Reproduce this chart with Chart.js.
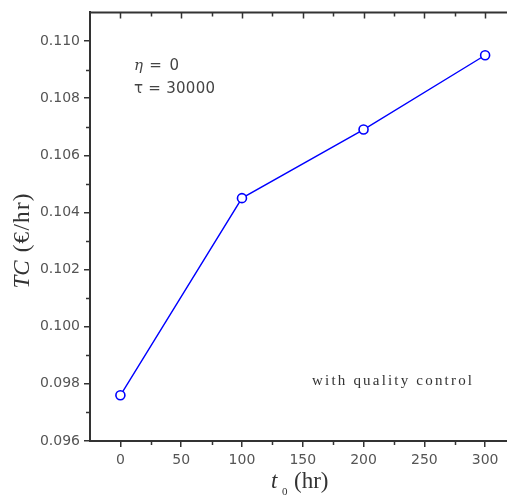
<!DOCTYPE html>
<html>
<head>
<meta charset="utf-8">
<script src="https://cdn.jsdelivr.net/npm/chart.js@4.4.1/dist/chart.umd.min.js"></script>
<style>
html,body{margin:0;padding:0;background:#fff;}
#wrap{width:507px;height:497px;position:relative;}
</style>
</head>
<body>
<div id="wrap"><canvas id="c" width="507" height="497"></canvas></div>
<script>
const t0Values = [0, 100, 200, 300];
const tcValues = [0.0976, 0.1045, 0.1069, 0.1095];
const xTickValues = [0, 50, 100, 150, 200, 250, 300];
const yTickValues = [0.096, 0.098, 0.100, 0.102, 0.104, 0.106, 0.108, 0.110];
const xMinorValues = [25, 75, 125, 175, 225, 275];
const yMinorValues = [0.097, 0.099, 0.101, 0.103, 0.105, 0.107, 0.109];
const annotLines = ["η = 0", "τ = 30000"];
const noteText = "with quality control";

const AX = '#333';
const LBL = '#555';

function spacedText(ctx, text, x, y, targetW) {
  const mw = ctx.measureText(text).width;
  const ls = (targetW - mw) / (text.length - 1);
  let cx = x;
  for (const ch of text) { ctx.fillText(ch, cx, y); cx += ctx.measureText(ch).width + ls; }
}

const decor = {
  id: 'decor',
  afterDraw(chart) {
    const ctx = chart.ctx, a = chart.chartArea;
    const xs = chart.scales.x, ys = chart.scales.y;
    ctx.save();
    ctx.strokeStyle = AX;
    ctx.beginPath();
    ctx.lineWidth = 2;
    ctx.moveTo(a.left - 1, a.top); ctx.lineTo(a.right, a.top);
    ctx.stroke();
    ctx.lineWidth = 1.5;
    ctx.beginPath();
    xMinorValues.forEach(v => { const px = Math.round(xs.getPixelForValue(v)) + 0.5; ctx.moveTo(px, a.bottom); ctx.lineTo(px, a.bottom + 4); });
    yMinorValues.forEach(v => { const py = Math.round(ys.getPixelForValue(v)) + 0.5; ctx.moveTo(a.left, py); ctx.lineTo(a.left - 4, py); });
    xTickValues.forEach(v => { const px = Math.round(xs.getPixelForValue(v)) + 0.5; ctx.moveTo(px, a.top); ctx.lineTo(px, a.top + 6); });
    xMinorValues.forEach(v => { const px = Math.round(xs.getPixelForValue(v)) + 0.5; ctx.moveTo(px, a.top); ctx.lineTo(px, a.top + 4); });
    ctx.stroke();

    // y title: TC (€/hr)
    ctx.fillStyle = '#333';
    ctx.save();
    ctx.translate(23, 241);
    ctx.rotate(-Math.PI / 2);
    ctx.textBaseline = 'middle';
    const fIt = 'italic 23px "Liberation Serif"';
    const fRm = '23px "Liberation Serif"';
    ctx.font = fIt; const w1 = ctx.measureText('TC').width;
    ctx.font = fRm; const w2 = ctx.measureText(' (€/hr)').width;
    const total = 95;
    const sx = -total / 2;
    ctx.textAlign = 'left';
    ctx.font = fIt; ctx.fillText('TC', sx, 0);
    ctx.font = fRm; spacedText(ctx, ' (€/hr)', sx + w1 + 1, 0, total - w1 - 1);
    ctx.restore();

    // x title: t0 (hr)
    ctx.textBaseline = 'alphabetic';
    ctx.textAlign = 'left';
    ctx.font = 'italic 23px "Liberation Serif"';
    ctx.fillText('t', 271, 488);
    ctx.font = '11px "Liberation Serif"';
    ctx.fillText('0', 282, 495);
    ctx.font = '23px "Liberation Serif"';
    ctx.fillText('(hr)', 294, 488);

    // annotations
    ctx.fillStyle = '#444';
    ctx.textBaseline = 'middle';
    ctx.font = 'italic 15px "DejaVu Serif"';
    ctx.fillText('η', 134, 66);
    const we = ctx.measureText('η').width;
    ctx.font = '15px "DejaVu Sans"';
    spacedText(ctx, annotLines[0].slice(1), 134 + we, 66, 45 - we);
    spacedText(ctx, annotLines[1], 134, 89, 81);

    // note
    ctx.fillStyle = '#333';
    ctx.font = '15px "Liberation Serif"';
    spacedText(ctx, noteText, 312, 381, 160);
    ctx.restore();
  }
};

new Chart(document.getElementById('c'), {
  type: 'scatter',
  data: {
    datasets: [{
      data: t0Values.map((x, i) => ({ x, y: tcValues[i] })),
      showLine: true,
      borderColor: '#0000ff',
      borderWidth: 1.4,
      pointRadius: 4.5,
      pointHoverRadius: 4.5,
      pointBorderWidth: 1.6,
      pointBorderColor: '#0000ff',
      pointBackgroundColor: '#ffffff',
      tension: 0
    }]
  },
  options: {
    responsive: false,
    animation: false,
    events: [],
    layout: { padding: { top: 11, right: 0, left: 0, bottom: 0 }, autoPadding: false },
    plugins: { legend: { display: false }, tooltip: { enabled: false } },
    scales: {
      x: {
        type: 'linear', min: -25, max: 318,
        afterFit: s => { s.height = 56; },
        afterBuildTicks: s => { s.ticks = xTickValues.map(v => ({ value: v })); },
        border: { display: true, color: AX, width: 2 },
        grid: { display: true, drawOnChartArea: false, drawTicks: true, tickLength: 6, color: AX, lineWidth: 1.5 },
        ticks: { color: LBL, font: { family: 'DejaVu Sans', size: 14 }, padding: 5, maxRotation: 0, callback: v => String(v) }
      },
      y: {
        type: 'linear', min: 0.096, max: 0.111,
        afterFit: s => { s.width = 90; },
        afterBuildTicks: s => { s.ticks = yTickValues.map(v => ({ value: v })); },
        border: { display: true, color: AX, width: 2 },
        grid: { display: true, drawOnChartArea: false, drawTicks: true, tickLength: 6, color: AX, lineWidth: 1.5 },
        ticks: { color: LBL, font: { family: 'DejaVu Sans', size: 14 }, padding: 4, callback: v => v.toFixed(3) }
      }
    }
  },
  plugins: [decor]
});
</script>
</body>
</html>
